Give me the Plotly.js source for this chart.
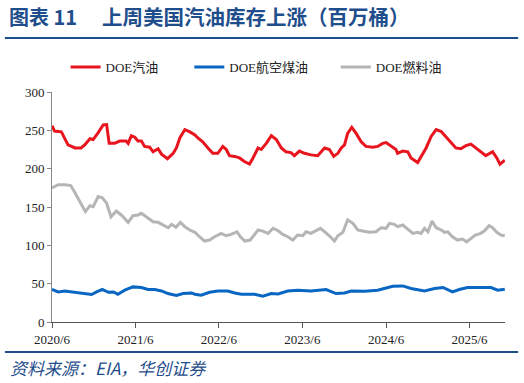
<!DOCTYPE html>
<html>
<head>
<meta charset="utf-8">
<script src="https://cdn.plot.ly/plotly-3.0.1.min.js"></script>
<style>
html,body{margin:0;padding:0;background:#fff;}
#chart{width:524px;height:383px;}
</style>
</head>
<body>
<div id="chart"></div>
<script>
// ---- Data (million barrels) ----
var seriesNames = ['DOE汽油', 'DOE航空煤油', 'DOE燃料油'];

var gasDates = ['2020-06-01','2020-06-12','2020-06-28','2020-07-12','2020-08-10','2020-09-10','2020-10-06','2020-10-22','2020-11-14','2020-11-28',
'2020-12-20','2021-01-11','2021-01-26','2021-02-06','2021-03-02','2021-03-24','2021-04-21','2021-04-30','2021-05-14','2021-05-29',
'2021-06-12','2021-06-27','2021-07-11','2021-08-02','2021-08-17','2021-09-08','2021-09-23','2021-10-19','2021-11-13','2021-11-27',
'2021-12-12','2022-01-03','2022-01-25','2022-02-16','2022-03-01','2022-03-22','2022-04-14','2022-05-05','2022-05-27','2022-06-18',
'2022-07-03','2022-07-17','2022-08-09','2022-08-30','2022-09-22','2022-10-13','2022-10-28','2022-11-19','2022-12-03','2022-12-25',
'2023-01-16','2023-02-07','2023-03-01','2023-03-21','2023-04-12','2023-04-27','2023-05-19','2023-06-10','2023-07-08','2023-08-07',
'2023-09-06','2023-09-27','2023-10-16','2023-11-03','2023-11-18','2023-12-02','2023-12-16','2024-01-03','2024-01-22','2024-02-13',
'2024-03-05','2024-04-04','2024-04-25','2024-05-17','2024-06-01','2024-06-23','2024-07-14','2024-07-21','2024-08-13','2024-09-04',
'2024-09-18','2024-10-17','2024-11-08','2024-11-23','2024-12-15','2025-01-06','2025-01-28','2025-02-19','2025-03-11','2025-04-02',
'2025-04-24','2025-05-16','2025-06-07','2025-06-29','2025-07-20','2025-08-11','2025-09-10','2025-09-28','2025-10-12','2025-11-02'];
var gasValues = [256,249,248.5,248,231,227,227,231,239,238,
247,257,257.5,233,233,236,236,233,243,241,
236,236,229,228,222,226,219,213,220,227,
240,251,248,244,240,235,227,220,220,229,
225,217,216,214,209,206,214,227,225,233,
243,238,227,222,221,217,223,220,218,217,
227,225,216,220,227,231,246,254,246,235,
229,228,229,233,234,229,225,220,223,222,
214,208,219,227,242,251,248.5,241,235.5,227,
226,230,232,227,222,217,222,214,206,211];

var jetDates = ['2020-06-01','2020-06-28','2020-07-27','2020-09-02','2020-10-08','2020-11-21','2020-12-13','2021-01-07','2021-02-03','2021-02-25',
'2021-03-16','2021-04-15','2021-05-21','2021-06-27','2021-07-26','2021-08-24','2021-09-23','2021-10-21','2021-11-27','2021-12-26',
'2022-02-01','2022-02-16','2022-03-15','2022-04-21','2022-05-27','2022-07-10','2022-08-09','2022-09-07','2022-11-04','2022-12-10',
'2023-01-16','2023-02-15','2023-03-29','2023-05-11','2023-07-08','2023-09-13','2023-10-26','2023-12-02','2024-01-01','2024-02-28',
'2024-04-25','2024-05-25','2024-06-30','2024-08-13','2024-09-18','2024-11-16','2024-12-30','2025-02-05','2025-03-18','2025-04-17',
'2025-05-23','2025-07-06','2025-09-03','2025-10-02','2025-11-02'];
var jetValues = [42.4,39.2,40.5,38.8,37.1,35.8,39.2,42.4,38.8,39.2,
36.2,41.5,45.8,45,42.4,42.4,40.5,37.1,34.5,37.1,
37.9,36.2,34.9,38.8,40.5,40.5,37.9,36.2,36.2,33.6,
37.1,36.5,40.5,41.5,40.5,42.4,37.1,37.9,40.5,40,
41.5,43.7,46.7,47.1,43.7,40.5,43.7,45,39.2,42.4,
45,45,45,41.5,42.8];

var fuelDates = ['2020-06-01','2020-06-28','2020-07-27','2020-08-22','2020-09-09','2020-10-01','2020-10-25','2020-11-14','2020-11-28','2020-12-20',
'2021-01-07','2021-01-26','2021-02-14','2021-03-09','2021-03-31','2021-04-30','2021-05-21','2021-06-12','2021-06-27','2021-07-18',
'2021-08-17','2021-09-08','2021-09-30','2021-10-22','2021-11-06','2021-11-25','2021-12-14','2022-01-03','2022-01-25','2022-02-16',
'2022-03-08','2022-03-30','2022-04-21','2022-05-13','2022-06-11','2022-07-03','2022-07-24','2022-08-19','2022-09-03','2022-09-22',
'2022-10-16','2022-10-31','2022-11-19','2022-12-10','2023-01-02','2023-01-24','2023-02-15','2023-03-07','2023-03-29','2023-04-20',
'2023-05-11','2023-06-03','2023-06-17','2023-07-08','2023-07-30','2023-08-19','2023-09-06','2023-09-27','2023-10-19','2023-11-03',
'2023-11-25','2023-12-16','2024-01-08','2024-01-29','2024-02-20','2024-03-20','2024-04-18','2024-05-10','2024-06-01','2024-06-16',
'2024-07-07','2024-07-21','2024-08-13','2024-09-04','2024-09-26','2024-10-17','2024-11-01','2024-11-16','2024-12-01','2024-12-19',
'2025-01-06','2025-01-28','2025-02-12','2025-02-26','2025-03-18','2025-04-09','2025-05-01','2025-05-19','2025-06-07','2025-06-26',
'2025-07-20','2025-08-04','2025-08-26','2025-09-10','2025-09-28','2025-10-16','2025-11-02'];
var fuelValues = [175,179,179,178,169,157,144,151.7,150.4,163.5,
162,155,137.3,144.8,139.6,130,138.7,139.6,141.8,137.3,
130.8,130,126.5,123,127.4,123.5,130,124.3,120,117,
111.2,105.6,106.9,111.2,115.6,112.5,114.3,117.7,111.2,105.6,
106.9,113.4,120,118.6,115.6,122.2,119,114.3,111.2,106.9,
113.4,112.5,117.7,115.6,118.6,122.2,117.7,112.5,105.6,112.5,
117,133,128.7,120,118.6,117,117.7,123,122.2,128.7,
127.4,124.3,126.5,121.3,115.6,117,115.6,122.2,117.7,131.7,
123,120,117,117.7,111.2,106.9,108.2,104.6,109,113.4,
115.6,118.6,125.6,123,117,113.4,112.5];

var tickDates = ['2020-06-01','2021-06-01','2022-06-01','2023-06-01','2024-06-01','2025-06-01'];
var tickLabels = ['2020/6','2021/6','2022/6','2023/6','2024/6','2025/6'];

var titleText = '上周美国汽油库存上涨（百万桶）';
var figLabel = '图表 11';
var sourceText = '资料来源：EIA，华创证券';

// ---- Styling ----
var SERIF = '"Liberation Serif", "Times New Roman", "Noto Sans CJK SC", serif';
var CJK = '"Noto Sans CJK SC", "Liberation Serif", sans-serif';
var NAVY = '#1F4E8C';
var PAD_RED = '\u00A0\u00A0\u00A0\u00A0\u00A0\u00A0\u00A0\u00A0';
var PAD_BLUE = '\u00A0\u00A0\u00A0\u00A0\u00A0\u00A0\u00A0';

var traces = [
  {x: gasDates, y: gasValues, name: seriesNames[0] + PAD_RED, type: 'scatter', mode: 'lines',
   line: {color: '#E8141E', width: 3}},
  {x: jetDates, y: jetValues, name: seriesNames[1] + PAD_BLUE, type: 'scatter', mode: 'lines',
   line: {color: '#0966C2', width: 3}},
  {x: fuelDates, y: fuelValues, name: seriesNames[2], type: 'scatter', mode: 'lines',
   line: {color: '#B5B5B5', width: 3}}
];

var layout = {
  width: 524, height: 383,
  margin: {l: 52, r: 19, t: 92, b: 61, pad: 0},
  paper_bgcolor: '#ffffff', plot_bgcolor: '#ffffff',
  showlegend: true,
  legend: {orientation: 'h', x: 0.03, xanchor: 'left', y: 1.109, yanchor: 'middle',
    font: {family: SERIF, size: 13, color: '#222'}, bgcolor: 'rgba(0,0,0,0)'},
  xaxis: {type: 'date', range: ['2020-06-01', '2025-11-03'],
    tickmode: 'array', tickvals: tickDates, ticktext: tickLabels,
    showgrid: false, zeroline: false, showline: true, linecolor: '#555', linewidth: 1,
    ticks: 'outside', ticklen: 5, tickcolor: '#555',
    tickfont: {family: SERIF, size: 13, color: '#222'}},
  yaxis: {range: [0, 300], dtick: 50, tick0: 0,
    showgrid: false, zeroline: false, showline: true, linecolor: '#888', linewidth: 1,
    ticks: 'outside', ticklen: 4, tickcolor: '#888',
    tickfont: {family: SERIF, size: 13, color: '#222'}},
  shapes: [
    {type: 'line', xref: 'paper', yref: 'paper', x0: -0.104, x1: 1.029, y0: 1.2348, y1: 1.2348,
     line: {color: NAVY, width: 2}},
    {type: 'line', xref: 'paper', yref: 'paper', x0: -0.104, x1: 1.029, y0: -0.1304, y1: -0.1304,
     line: {color: NAVY, width: 2}}
  ],
  annotations: [
    {xref: 'paper', yref: 'paper', x: -0.0995, y: 1.33, xanchor: 'left', yanchor: 'middle',
     text: '<b>' + figLabel + '</b>', showarrow: false,
     font: {family: CJK, size: 20, color: NAVY}},
    {xref: 'paper', yref: 'paper', x: 0.106, y: 1.33, xanchor: 'left', yanchor: 'middle',
     text: '<b>' + titleText + '</b>', showarrow: false,
     font: {family: CJK, size: 20.5, color: NAVY}},
    {xref: 'paper', yref: 'paper', x: -0.097, y: -0.196, xanchor: 'left', yanchor: 'middle',
     text: '<i>' + sourceText + '</i>', showarrow: false,
     font: {family: CJK, size: 17, color: NAVY}}
  ]
};

Plotly.newPlot('chart', traces, layout, {staticPlot: true, displayModeBar: false});
</script>
</body>
</html>
